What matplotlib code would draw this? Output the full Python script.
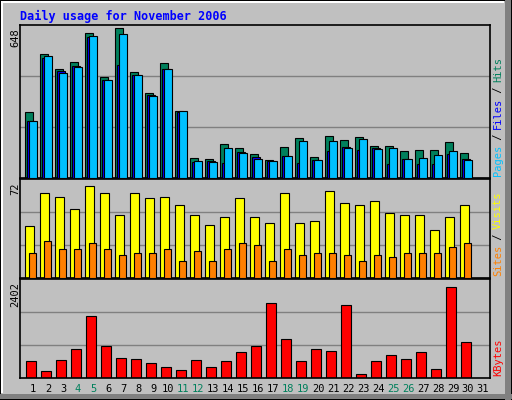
import matplotlib
matplotlib.use('Agg')
import matplotlib.pyplot as plt
from matplotlib.patches import Rectangle

days = list(range(1, 32))
hits = [285, 536, 471, 501, 626, 436, 648, 458, 367, 497, 289, 86, 82, 147, 130, 104,
        78, 134, 173, 91, 181, 164, 177, 138, 138, 117, 121, 121, 156, 108, 0]
files = [246, 518, 462, 484, 609, 423, 488, 445, 358, 471, 285, 69, 73, 65, 112, 91,
         73, 95, 65, 78, 117, 134, 121, 130, 60, 82, 60, 60, 104, 82, 0]
pages = [246, 527, 454, 479, 613, 423, 622, 445, 354, 471, 289, 73, 69, 130, 108, 82,
         73, 95, 160, 78, 160, 130, 168, 125, 130, 82, 86, 99, 117, 78, 0]
visits = [39, 64, 61, 52, 69, 64, 47, 64, 60, 61, 55, 47, 40, 46, 60, 46,
          41, 64, 41, 43, 65, 56, 55, 58, 49, 47, 47, 36, 46, 55, 0]
sites = [19, 28, 22, 22, 26, 22, 17, 19, 19, 22, 13, 20, 13, 22, 26, 25,
         13, 22, 17, 19, 19, 17, 13, 17, 16, 19, 19, 19, 23, 26, 0]
kbytes = [417, 167, 442, 733, 1542, 808, 508, 483, 383, 283, 192, 458, 283, 417, 658, 808,
          1883, 983, 433, 733, 683, 1833, 108, 433, 583, 483, 658, 233, 2283, 908, 0]
weekends = [4, 5, 11, 12, 18, 19, 25, 26]

W, H = 512, 400
BG = '#c0c0c0'
mono = 'DejaVu Sans Mono'

fig = plt.figure(figsize=(W / 100, H / 100), dpi=100)
fig.patch.set_facecolor(BG)


def px_axes(x0, y0, x1, y1):
    # pixel box (top-left origin) -> figure axes
    return fig.add_axes([x0 / W, 1 - y1 / H, (x1 - x0) / W, (y1 - y0) / H])


# outer frame / bevel
fig.patches.append(Rectangle((0, 0), 1, 1, transform=fig.transFigure, fill=False,
                             edgecolor='black', linewidth=1.5))
fig.patches.append(Rectangle((1 / W, 1 - 3 / H), (W - 9) / W, 1.5 / H, transform=fig.transFigure,
                             facecolor='white', edgecolor='none'))
fig.patches.append(Rectangle((1 / W, 7 / H), 1.5 / W, (H - 10) / H, transform=fig.transFigure,
                             facecolor='white', edgecolor='none'))
fig.patches.append(Rectangle(((W - 7) / W, 0), 6 / W, 1, transform=fig.transFigure,
                             facecolor='#808080', edgecolor='none'))
fig.patches.append(Rectangle((0, 1 / H), 1, 5 / H, transform=fig.transFigure,
                             facecolor='#808080', edgecolor='none'))

fig.text(20 / W, 1 - 16 / H, 'Daily usage for November 2006', color='#0000ff',
         family=mono, fontweight='bold', fontsize=8.5, va='center', ha='left')

xl = (1 - 13 / 15, 1 + 457 / 15)


def setup(ax, ymax):
    ax.set_facecolor(BG)
    ax.set_xlim(*xl)
    ax.set_ylim(0, ymax * 1.0)
    ax.set_xticks([])
    ax.set_yticks([])
    for g in (ymax / 3, ymax * 2 / 3):
        ax.axhline(g, color='#808080', linewidth=1, zorder=0)
    for s in ax.spines.values():
        s.set_color('black')
        s.set_linewidth(1.2)


lw = 0.8
ax1 = px_axes(20, 25, 490, 178)
setup(ax1, 648 * 1.02)
ax1.bar([d - 0.51 for d in days], hits, width=0.49, align='edge', color='#00805c', edgecolor='black', linewidth=lw, zorder=2)
ax1.bar([d - 0.38 for d in days], files, width=0.49, align='edge', color='#0000ff', edgecolor='black', linewidth=lw, zorder=3)
ax1.bar([d - 0.25 for d in days], pages, width=0.49, align='edge', color='#00c0ff', edgecolor='black', linewidth=lw, zorder=4)

ax2 = px_axes(20, 179, 490, 278)
setup(ax2, 72 * 1.03)
ax2.bar([d - 0.51 for d in days], visits, width=0.56, align='edge', color='#ffff00', edgecolor='black', linewidth=lw, zorder=2)
ax2.bar([d - 0.25 for d in days], sites, width=0.47, align='edge', color='#ff8000', edgecolor='black', linewidth=lw, zorder=3)

ax3 = px_axes(20, 279, 490, 378)
setup(ax3, 2402 * 1.03)
ax3.bar([d - 0.45 for d in days], kbytes, width=0.67, align='edge', color='#ff0000', edgecolor='black', linewidth=lw, zorder=2)

for d in days:
    ax3.text(d, -0.06, str(d), transform=ax3.get_xaxis_transform(), ha='center', va='top',
             family=mono, fontsize=7.5, color='#00805c' if d in weekends else 'black')

# left max labels
for y, t in ((28, '648'), (182, '72'), (282, '2402')):
    fig.text(15 / W, 1 - y / H, t, rotation=90, ha='center', va='top', family=mono, fontsize=7.5)

# right legends (rotated, bottom-to-top)
def legend(ybot, parts):
    y = ybot
    for txt, col in parts:
        t = fig.text(498 / W, 1 - y / H, txt, rotation=90, ha='center', va='bottom',
                     family=mono, fontsize=7.5, color=col)
        y -= len(txt) * 5.9


legend(176, [('Pages', '#00c0ff'), (' / ', 'black'), ('Files', '#0000ff'), (' / ', 'black'), ('Hits', '#00805c')])
legend(276, [('Sites', '#ff8000'), (' / ', 'black'), ('Visits', '#ffff00')])
legend(376, [('KBytes', '#ff0000')])

fig.savefig('out.png', dpi=100, facecolor=fig.get_facecolor())
